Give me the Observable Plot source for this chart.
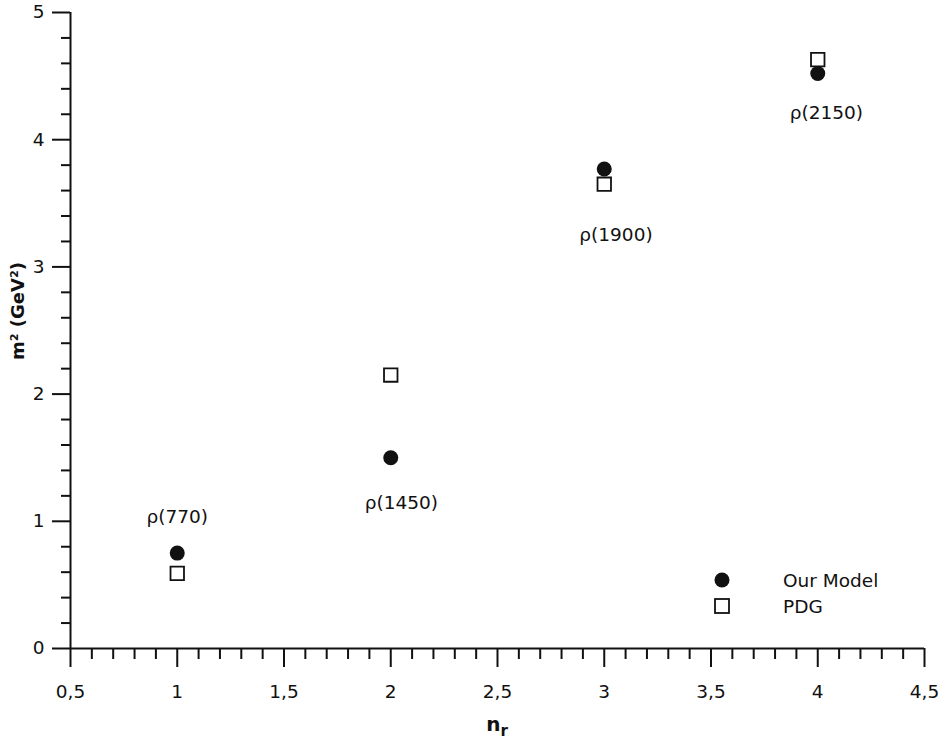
<!DOCTYPE html>
<html>
<head>
<meta charset="utf-8">
<script src="https://cdn.jsdelivr.net/npm/d3@7"></script>
<script src="https://cdn.jsdelivr.net/npm/@observablehq/plot@0.6"></script>
<style>
  body { margin: 0; background: #fff; }
  #wrap { position: relative; width: 945px; height: 740px; font-family: "DejaVu Sans", Verdana, sans-serif; }
  .legend { position: absolute; left: 712px; top: 567px; font-size: 18.5px; color: #111; }
  .legend .row { display: flex; align-items: center; height: 26px; }
  .legend .sym { width: 20px; height: 20px; display: flex; align-items: center; justify-content: center; margin-right: 51px; }
</style>
</head>
<body>
<div id="wrap"></div>
<script>
// Data
const nr = [1, 2, 3, 4];
const modelM2 = [0.75, 1.50, 3.77, 4.52];
const pdgM2 = [0.59, 2.15, 3.65, 4.63];
const stateNames = ["ρ(770)", "ρ(1450)", "ρ(1900)", "ρ(2150)"];
const labelX = [1.0, 2.05, 3.055, 4.04];
const labelY = [1.03, 1.14, 3.25, 4.21];
const xMajorTicks = [0.5, 1, 1.5, 2, 2.5, 3, 3.5, 4, 4.5];
const yMajorTicks = [0, 1, 2, 3, 4, 5];
const seriesNames = ["Our Model", "PDG"];

const model = nr.map((n, i) => ({n, m2: modelM2[i]}));
const pdg = nr.map((n, i) => ({n, m2: pdgM2[i]}));
const labels = stateNames.map((s, i) => ({s, x: labelX[i], y: labelY[i]}));
const xMinor = d3.range(5, 46).map(v => v / 10).filter(v => !xMajorTicks.includes(v));
const yMinor = d3.range(0, 26).map(v => v / 5).filter(v => !yMajorTicks.includes(v));

const fmt = v => String(v).replace(".", ",");
const ink = "#111";

const chart = Plot.plot({
  width: 945,
  height: 740,
  marginLeft: 70,
  marginRight: 21,
  marginTop: 12,
  marginBottom: 92,
  style: {fontFamily: "DejaVu Sans, Verdana, sans-serif", fontSize: "18.5px", color: ink, background: "#fff"},
  x: {domain: [0.5, 4.5]},
  y: {domain: [0, 5]},
  marks: [
    Plot.axisX(xMinor, {tickSize: 11, strokeWidth: 2, text: null, label: null}),
    Plot.axisX(xMajorTicks, {tickSize: 19, tickPadding: 17, strokeWidth: 2, tickFormat: fmt, label: null}),
    Plot.axisY(yMinor, {tickSize: 9, strokeWidth: 2, text: null, label: null}),
    Plot.axisY(yMajorTicks, {tickSize: 18, tickPadding: 8, strokeWidth: 2, tickFormat: fmt, label: null}),
    Plot.ruleX([0.5], {stroke: ink, strokeWidth: 2}),
    Plot.ruleY([0], {stroke: ink, strokeWidth: 2}),
    Plot.dot(pdg, {x: "n", y: "m2", symbol: "square", r: 7.6, fill: "#fff", stroke: ink, strokeWidth: 1.8}),
    Plot.dot(model, {x: "n", y: "m2", symbol: "circle", r: 7.5, fill: ink, stroke: "none"}),
    Plot.text(labels, {x: "x", y: "y", text: "s", fill: ink, fontSize: 18.5})
  ]
});

const wrap = document.getElementById("wrap");
wrap.appendChild(chart);

const svg = d3.select(chart);
// y-axis label
svg.append("text")
  .attr("transform", "translate(24,311) rotate(-90)")
  .attr("text-anchor", "middle")
  .attr("font-weight", "bold")
  .attr("font-size", 18)
  .attr("fill", ink)
  .text("m² (GeV²)");
// x-axis label
const xl = svg.append("text")
  .attr("x", 497).attr("y", 731)
  .attr("text-anchor", "middle")
  .attr("font-weight", "bold")
  .attr("font-size", 20)
  .attr("fill", ink);
xl.append("tspan").text("n");
xl.append("tspan").attr("dy", 5).attr("font-size", 15).text("r");

// legend
const leg = document.createElement("div");
leg.className = "legend";
leg.innerHTML = `
  <div class="row"><div class="sym"><svg width="16" height="16"><circle cx="8" cy="8" r="7.5" fill="${ink}"/></svg></div><span>${seriesNames[0]}</span></div>
  <div class="row"><div class="sym"><svg width="16" height="16"><rect x="1" y="1" width="14" height="14" fill="#fff" stroke="${ink}" stroke-width="1.8"/></svg></div><span>${seriesNames[1]}</span></div>`;
wrap.appendChild(leg);
</script>
</body>
</html>
